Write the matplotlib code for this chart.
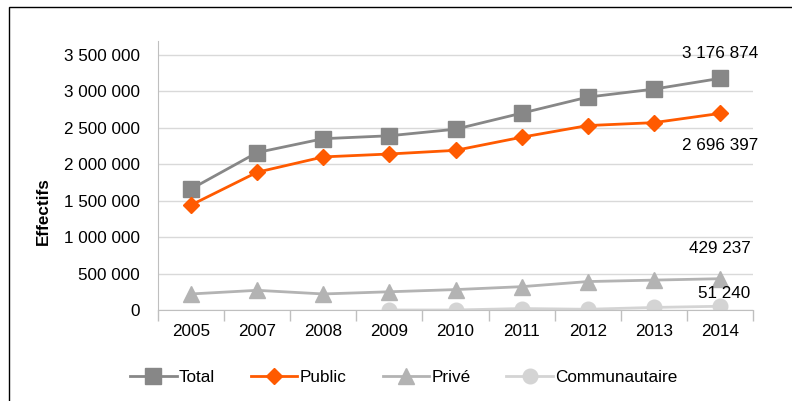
import numpy as np
import matplotlib
matplotlib.use("Agg")
import matplotlib.pyplot as plt
from matplotlib.patches import Rectangle
from matplotlib.ticker import FixedLocator, FuncFormatter

plt.rcParams['font.family'] = ['Liberation Sans', 'DejaVu Sans']

# data
years = ['2005', '2007', '2008', '2009', '2010', '2011', '2012', '2013', '2014']
total = [1660000, 2160000, 2350000, 2390000, 2480000, 2700000, 2920000, 3030000, 3176874]
public = [1440000, 1890000, 2100000, 2140000, 2190000, 2370000, 2530000, 2570000, 2696397]
prive = [220000, 270000, 220000, 250000, 280000, 320000, 390000, 410000, 429237]
commu = [None, None, None, 0, 0, 20000, 10000, 35000, 51240]

last_labels = ['3 176 874', '2 696 397', '429 237', '51 240']

fs = 12.3
fig = plt.figure(figsize=(7.92, 4.01), dpi=100)
W, H = 792, 401
ax = fig.add_axes([158 / W, 1 - 310 / H, (753 - 158) / W, (310 - 41) / H])

x = np.arange(len(years))
c_total = '#878787'
c_public = '#FF5A00'
c_prive = '#B3B3B3'
c_commu = '#D4D4D4'

ax.plot(x, total, color=c_total, lw=2, marker='s', ms=11.5, label='Total', zorder=4)
ax.plot(x, public, color=c_public, lw=2, marker='D', ms=8.5, label='Public', zorder=5)
ax.plot(x, prive, color=c_prive, lw=2, marker='^', ms=11, label='Privé', zorder=3)
cx = [i for i, v in enumerate(commu) if v is not None]
cy = [v for v in commu if v is not None]
ax.plot(cx, cy, color=c_commu, lw=2, marker='o', ms=10.5, label='Communautaire', zorder=2)

ax.set_xlim(-0.5, len(years) - 0.5)
ax.set_ylim(0, 3690000)
ax.set_yticks(np.arange(0, 3500001, 500000))
ax.yaxis.set_major_formatter(FuncFormatter(lambda v, p: '{:,}'.format(int(v)).replace(',', ' ')))
ax.set_xticks(x)
ax.set_xticklabels(years)
ax.xaxis.set_minor_locator(FixedLocator(np.arange(-0.5, len(years), 1)))
ax.tick_params(axis='x', which='major', length=0, pad=10, labelsize=fs)
ax.tick_params(axis='x', which='minor', length=8, color='#BFBFBF', width=1)
ax.tick_params(axis='y', length=0, pad=13, labelsize=fs)
ax.grid(axis='y', color='#D9D9D9', lw=1)
ax.set_axisbelow(True)
for s in ['top', 'right']:
    ax.spines[s].set_visible(False)
for s in ['left', 'bottom']:
    ax.spines[s].set_color('#BFBFBF')

fig.text(43 / W, 1 - 211 / H, 'Effectifs', rotation=90, ha='center', va='center',
         fontweight='bold', fontsize=fs)

# end labels
ax.annotate(last_labels[0], (8, total[-1]), xytext=(0, 18), textcoords='offset points',
            ha='center', va='center', fontsize=fs)
ax.annotate(last_labels[1], (8, public[-1]), xytext=(0, -23), textcoords='offset points',
            ha='center', va='center', fontsize=fs)
ax.annotate(last_labels[2], (8, prive[-1]), xytext=(0, 22), textcoords='offset points',
            ha='center', va='center', fontsize=fs)
ax.annotate(last_labels[3], (8, commu[-1]), xytext=(3, 9), textcoords='offset points',
            ha='center', va='center', fontsize=fs)

fig.legend(loc='center', bbox_to_anchor=(404 / W, 1 - 377 / H), ncol=4, frameon=False,
           fontsize=fs, handlelength=2.7, columnspacing=2.1, handletextpad=0.15)

fig.patches.append(Rectangle((9 / W, -0.1), 1.2, 1 - 7 / H + 0.1, transform=fig.transFigure,
                             fill=False, edgecolor='black', lw=1))

fig.savefig('out.png', dpi=100)
